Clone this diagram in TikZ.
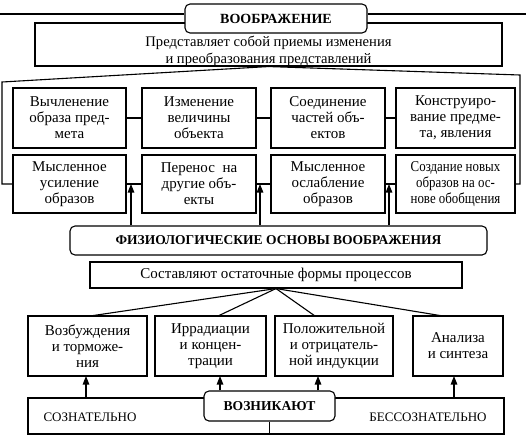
\documentclass[tikz,border=0pt]{standalone}
\usepackage{fontspec}
\setmainfont{Liberation Serif}
\usepackage{graphicx}
\usetikzlibrary{arrows.meta,calc}
\begin{document}
\begin{tikzpicture}[x=1pt,y=-1pt,
  line width=1.1pt,
  box/.style={draw,rectangle,fill=white,inner sep=0pt,align=center,
    font=\fontsize{15}{16}\selectfont},
  rbox/.style={box,rounded corners=5pt,font=\fontsize{13.5}{15}\selectfont\bfseries},
  plain/.style={inner sep=0pt,align=center,font=\fontsize{14.6}{17}\selectfont},
  arr/.style={-{Triangle[length=8.5pt,width=6.5pt]}}]
\useasboundingbox (0,0) rectangle (526,437);

% top part
\node[box,minimum width=467pt,minimum height=43pt] (desc) at (268.5,44.5) {};
\node[plain] (descT) at (268.5,51.5) {Представляет собой приемы изменения\\и преобразования представлений};
\node[rbox,minimum width=182pt,minimum height=29pt,font=\fontsize{14}{15}\selectfont\bfseries] (title) at (276,18.5) {ВООБРАЖЕНИЕ};
\coordinate (tl) at (0,14);
\coordinate (tr) at (526,14);
\draw[line width=1.8pt] (tl) -- (tl -| title.west);
\draw[line width=1.8pt] (title.east |- tr) -- (tr);

% row 1
\node[box,minimum width=113pt,minimum height=60pt] (r1a) at (69.5,118) {Вычленение\\образа пред-\\мета};
\node[box,minimum width=114pt,minimum height=60pt] (r1b) at (199,118) {Изменение\\величины\\объекта};
\node[box,minimum width=114pt,minimum height=60pt] (r1c) at (328,118) {Соединение\\частей объ-\\ектов};
\node[box,minimum width=119pt,minimum height=60pt] (r1d) at (455.5,118) {Конструиро-\\вание предме-\\та, явления};
\draw (r1a.east) -- (r1b.west);
\draw (r1b.east) -- (r1c.west);
\draw (r1c.east) -- (r1d.west);

% row 2
\node[box,minimum width=113pt,minimum height=58pt] (r2a) at (69.5,184) {Мысленное\\усиление\\образов};
\node[box,minimum width=114pt,minimum height=58pt] (r2b) at (199,184) {Перенос~ на\\другие объ-\\екты};
\node[box,minimum width=114pt,minimum height=58pt] (r2c) at (328,184) {Мысленное\\ослабление\\образов};
\node[box,minimum width=119pt,minimum height=58pt] (r2d) at (455.5,184) {\scalebox{0.86}[1]{\begin{tabular}{@{}c@{}}Создание новых\\образов на ос-\\нове обобщения\end{tabular}}};
\draw (r2a.east) -- (r2b.west);
\draw (r2b.east) -- (r2c.west);
\draw (r2c.east) -- (r2d.west);

% outer frame
\coordinate (cL1) at (2,82);
\coordinate (cL2) at (2,184);
\coordinate (cR1) at (520,75);
\coordinate (cR2) at (520,184);
\draw (desc.south) -- (cL1) -- (cL2) -- (r2a.west);
\draw (desc.south) -- (cR1) -- (cR2) -- (r2d.east);

% physiological
\node[rbox,minimum width=417pt,minimum height=29pt] (phys) at (278.5,240.5) {ФИЗИОЛОГИЧЕСКИЕ ОСНОВЫ ВООБРАЖЕНИЯ};
\node[box,minimum width=372pt,minimum height=26pt] (sost) at (276,275) {Составляют остаточные формы процессов};
\coordinate (j1) at (131,184);
\coordinate (j2) at (260,184);
\coordinate (j3) at (389,184);
\draw[arr] (j1 |- phys.north) -- (j1);
\draw[arr] (j2 |- phys.north) -- (j2);
\draw[arr] (j3 |- phys.north) -- (j3);

% bottom row
\node[box,minimum width=119pt,minimum height=60pt] (b1) at (87.5,346) {Возбуждения\\и торможе-\\ния};
\node[box,minimum width=111pt,minimum height=60pt] (b2) at (210.5,346) {Иррадиации\\и концен-\\трации};
\node[box,minimum width=118pt,minimum height=60pt,text depth=4pt] (b3) at (334,346) {Положительной\\и отрицатель-\\ной индукции};
\node[box,minimum width=90pt,minimum height=60pt] (b4) at (458,346) {Анализа\\и синтеза};
\coordinate (f1) at (90,316);
\coordinate (f2) at (218,316);
\coordinate (f3) at (315,316);
\coordinate (f4) at (443,316);
\draw (sost.south) -- (f1);
\draw (sost.south) -- (f2);
\draw (sost.south) -- (f3);
\draw (sost.south) -- (f4);

% bottom frame
\node[box,minimum width=476pt,minimum height=36pt] (frame) at (266,416) {};
\node[plain,font=\fontsize{13}{15}\selectfont] (soz) at (90,417) {СОЗНАТЕЛЬНО};
\node[plain,font=\fontsize{13}{15}\selectfont] (bes) at (428,417) {БЕССОЗНАТЕЛЬНО};
\node[rbox,minimum width=131pt,minimum height=30pt,font=\fontsize{13.6}{15}\selectfont\bfseries] (voz) at (269.5,406) {ВОЗНИКАЮТ};
\draw (voz.south) -- (voz.south |- frame.south);
\coordinate (a1) at (86,376);
\coordinate (a2) at (220,376);
\coordinate (a3) at (318,376);
\coordinate (a4) at (454,376);
\draw[arr] (a1 |- frame.north) -- (a1);
\draw[arr] (a2 |- voz.north) -- (a2);
\draw[arr] (a3 |- voz.north) -- (a3);
\draw[arr] (a4 |- frame.north) -- (a4);
\end{tikzpicture}
\end{document}
